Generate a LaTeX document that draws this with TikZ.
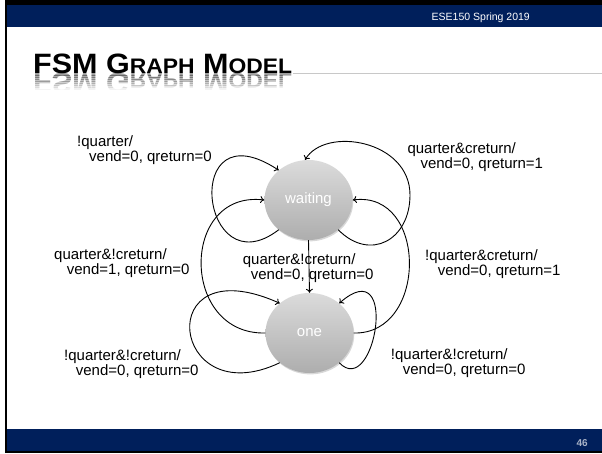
\documentclass[tikz,border=0pt]{standalone}
\usepackage{fontspec}
\setmainfont{Liberation Sans}
\usetikzlibrary{shapes.geometric,arrows.meta,shadows}

\definecolor{slidenavy}{RGB}{0,31,91}
\definecolor{pagegray}{RGB}{170,180,200}
\definecolor{rulegray}{RGB}{200,200,200}

% two-line transition label, second line indented
\newcommand\fsmlabel[3]{\vtop{\hbox{#1}\hbox{\hspace*{#2}#3}}}
% small capitals for the title
\newcommand\titlesc[1]{{\fontsize{21}{21}\selectfont #1}}
\newcommand\titlestring{FSM G\titlesc{RAPH} M\titlesc{ODEL}}

\tikzset{
  state/.style={ellipse, minimum width=88pt, minimum height=80pt, inner sep=0pt,
    top color=black!14, bottom color=black!32, draw=none,
    drop shadow={shadow xshift=0.8pt, shadow yshift=-1.4pt, opacity=0.3},
    text=white, font=\fontsize{15}{15}\selectfont},
  edge/.style={draw=black, line width=0.9pt, -{To[length=4pt,width=7pt]}},
  trans/.style={inner sep=0pt, anchor=base west, font=\fontsize{15}{15}\selectfont},
  titletext/.style={inner sep=0pt, font=\fontsize{28}{28}\selectfont\bfseries},
}

\begin{document}
\begin{tikzpicture}[x=1pt,y=-1pt]
  \useasboundingbox (0,0) rectangle (602,453);
  \fill[white] (0,0) rectangle (602,453);

  % slide frame and bands
  \fill[black] (4.5,0) rectangle (602,5);
  \fill[black] (4.5,0) rectangle (7,453);
  \fill[black] (4.5,451) rectangle (602,453);
  \fill[slidenavy] (7,5) rectangle (602,27);
  \fill[slidenavy] (7,429) rectangle (602,451);
  \node[inner sep=0pt, anchor=base east, text=white, font=\fontsize{10.5}{10.5}\selectfont]
    (header) at (530,20.5) {ESE150 Spring 2019};
  \node[inner sep=0pt, anchor=base east, text=pagegray, font=\fontsize{10}{10}\selectfont\bfseries]
    (pagenum) at (588,446) {46};

  % title with rule and fading reflection
  \draw[rulegray, line width=0.8pt] (293,73) -- (602,73);
  \begin{scope}[shift={(33,73.3)}, xscale=1.09, transform shape]
    \node[titletext, anchor=base west] (title) at (0,0) {\titlestring};
  \end{scope}
  \foreach \i in {0,...,7}{
    \pgfmathsetmacro\reflop{0.38-0.047*\i}
    \begin{scope}
      \clip (0,{73.3+2*\i}) rectangle (602,{75.3+2*\i});
      \begin{scope}[shift={(33,73.3)}, xscale=1.09, yscale=-1, transform shape]
        \node[titletext, anchor=base west, text opacity=\reflop] (reflection\i) at (0,0) {\titlestring};
      \end{scope}
    \end{scope}
  }

  % states
  \node[state] (w) at (308.5,200) {waiting};
  \node[state] (o) at (309.5,333) {one};

  % transitions
  \draw[edge] (w.225) .. controls (200,290) and (180,105) .. (w.135);
  \draw[edge] (w.-45) .. controls (370,262) and (410,240) .. (410,195)
                      .. controls (410,140) and (325,126) .. (w.95);
  \draw[edge] (w.south) -- (o.north);
  \draw[edge] (o.180) .. controls (180,335) and (180,190) .. (w.180);
  \draw[edge] (o.0) .. controls (428,335) and (428,190) .. (w.0);
  \draw[edge] (o.225) .. controls (170,415) and (150,245) .. (o.135);
  \draw[edge] (o.-45) .. controls (375,400) and (400,250) .. (o.45);

  % transition labels
  \node[trans] (l1) at (77,146.5) {\fsmlabel{!quarter/}{12pt}{vend=0, qreturn=0}};
  \node[trans] (l2) at (407.3,153.3) {\fsmlabel{quarter\&creturn/}{13pt}{vend=0, qreturn=1}};
  \node[trans] (l3) at (242.7,264) {\fsmlabel{quarter\&!creturn/}{8pt}{vend=0, qreturn=0}};
  \node[trans] (l4) at (54,259.3) {\fsmlabel{quarter\&!creturn/}{12.7pt}{vend=1, qreturn=0}};
  \node[trans] (l5) at (425,260) {\fsmlabel{!quarter\&creturn/}{12.7pt}{vend=0, qreturn=1}};
  \node[trans] (l6) at (64,360) {\fsmlabel{!quarter\&!creturn/}{11.7pt}{vend=0, qreturn=0}};
  \node[trans] (l7) at (390.7,359.3) {\fsmlabel{!quarter\&!creturn/}{12pt}{vend=0, qreturn=0}};
\end{tikzpicture}
\end{document}
